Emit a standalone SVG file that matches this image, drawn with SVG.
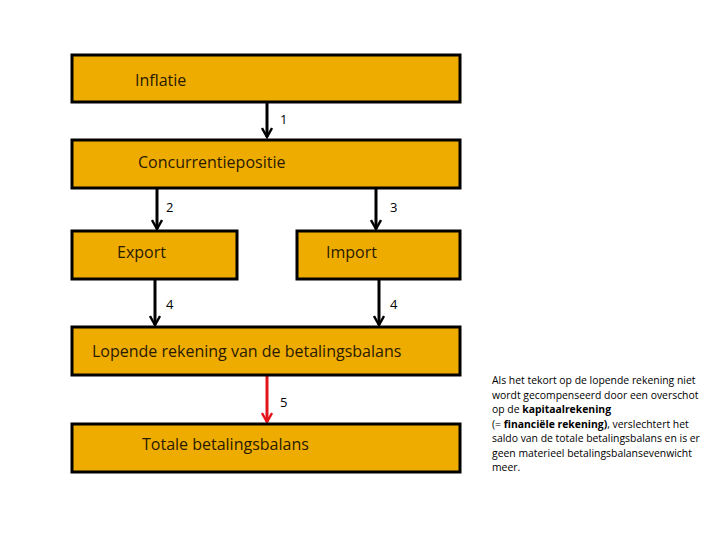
<svg xmlns="http://www.w3.org/2000/svg" width="728" height="546" viewBox="0 0 728 546">
<style>
.box{fill:#EFAC00;stroke:#000;stroke-width:3}
.lbl{font-family:"Open Sans","Noto Sans",sans-serif;font-size:16px;fill:#2a1a00}
.num{font-family:"Open Sans","Noto Sans",sans-serif;font-size:13px;fill:#000}
.arr{stroke:#000;stroke-width:3;fill:none}
.red{stroke:#E3151A}
.note{font-family:"Open Sans","Noto Sans",sans-serif;font-size:10.4px;fill:#000}
</style>
<defs>
<marker id="ah" viewBox="0 0 12 12" refX="10" refY="6" markerWidth="12" markerHeight="12" markerUnits="userSpaceOnUse" orient="auto">
<path d="M1,1 L10,6 L1,11" fill="none" stroke="#000" stroke-width="2.4"/>
</marker>
<marker id="ahr" viewBox="0 0 12 12" refX="10" refY="6" markerWidth="12" markerHeight="12" markerUnits="userSpaceOnUse" orient="auto">
<path d="M1,1 L10,6 L1,11" fill="none" stroke="#E3151A" stroke-width="2.4"/>
</marker>
</defs>
<rect width="728" height="546" fill="#fff"/>
<g id="connectors">
<line class="arr" x1="267" y1="103" x2="267" y2="137" marker-end="url(#ah)"/>
<line class="arr" x1="157" y1="188" x2="157" y2="229" marker-end="url(#ah)"/>
<line class="arr" x1="376" y1="188" x2="376" y2="229" marker-end="url(#ah)"/>
<line class="arr" x1="155" y1="279" x2="155" y2="325" marker-end="url(#ah)"/>
<line class="arr" x1="379" y1="279" x2="379" y2="325" marker-end="url(#ah)"/>
<line class="arr red" x1="267" y1="375" x2="267" y2="422" marker-end="url(#ahr)"/>
<text class="num" x="280" y="124">1</text>
<text class="num" x="166" y="212">2</text>
<text class="num" x="390" y="212">3</text>
<text class="num" x="166" y="309">4</text>
<text class="num" x="390" y="309">4</text>
<text class="num" x="280" y="407">5</text>
</g>
<g id="inflatie"><rect class="box" x="72" y="55" width="388" height="47"/><text class="lbl" x="135" y="86">Inflatie</text></g>
<g id="concurrentiepositie"><rect class="box" x="72" y="140" width="388" height="48"/><text class="lbl" x="138" y="168">Concurrentiepositie</text></g>
<g id="export"><rect class="box" x="72" y="231" width="165" height="48"/><text class="lbl" x="117" y="258">Export</text></g>
<g id="import"><rect class="box" x="297" y="231" width="163" height="48"/><text class="lbl" x="326" y="258">Import</text></g>
<g id="lopende"><rect class="box" x="72" y="327" width="388" height="48"/><text class="lbl" x="92" y="357">Lopende rekening van de betalingsbalans</text></g>
<g id="totale"><rect class="box" x="72" y="424" width="388" height="48"/><text class="lbl" x="142" y="450">Totale betalingsbalans</text></g>
<g id="note" class="note">
<text x="492" y="384">Als het tekort op de lopende rekening niet</text>
<text x="492" y="398.5">wordt gecompenseerd door een overschot</text>
<text x="492" y="413">op de <tspan font-weight="bold">kapitaalrekening</tspan></text>
<text x="492" y="427.5">(= <tspan font-weight="bold">financiële rekening)</tspan>, verslechtert het</text>
<text x="492" y="442">saldo van de totale betalingsbalans en is er</text>
<text x="492" y="456.5">geen materieel betalingsbalansevenwicht</text>
<text x="492" y="471">meer.</text>
</g>
</svg>
